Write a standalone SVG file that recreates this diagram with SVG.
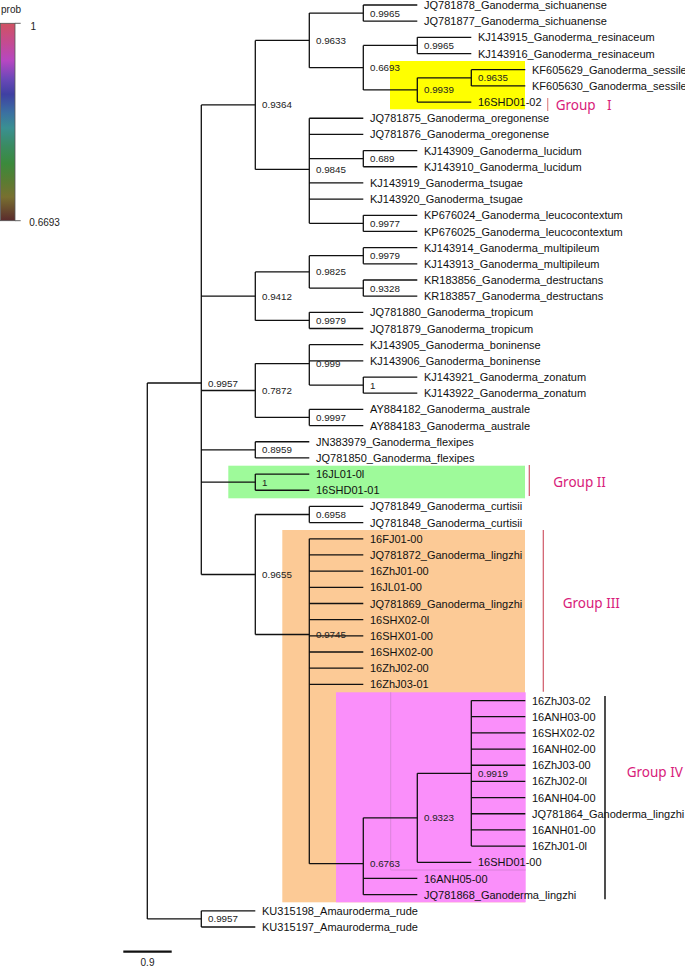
<svg xmlns="http://www.w3.org/2000/svg" width="685" height="968" viewBox="0 0 685 968">
<style>
.leaf{font-family:"Liberation Sans",Arial,sans-serif;font-size:11px;fill:#111}
.nl{font-family:"Liberation Sans",Arial,sans-serif;font-size:9.8px;fill:#222}
.grp{font-family:"Noto Sans","Open Sans",sans-serif;font-size:13.5px;fill:#d81b7a}
.tree{fill:none;stroke:#111;stroke-width:1.3}
.leg{font-family:"Liberation Sans",Arial,sans-serif;font-size:10px;fill:#222}
</style>
<defs>
<linearGradient id="pg" x1="0" y1="0" x2="0" y2="1">
<stop offset="0" stop-color="#d05262"/>
<stop offset="0.1" stop-color="#c44b92"/>
<stop offset="0.19" stop-color="#b647c2"/>
<stop offset="0.28" stop-color="#6c48b8"/>
<stop offset="0.36" stop-color="#3f40a2"/>
<stop offset="0.45" stop-color="#3b6fa2"/>
<stop offset="0.53" stop-color="#3a9092"/>
<stop offset="0.62" stop-color="#3a8b62"/>
<stop offset="0.71" stop-color="#3b8a3c"/>
<stop offset="0.8" stop-color="#5a7c32"/>
<stop offset="0.88" stop-color="#787030"/>
<stop offset="1" stop-color="#5a2a2c"/>
</linearGradient>
</defs>
<rect width="685" height="968" fill="#fff"/>
<g id="legend">
<text class="leg" x="1" y="13">prob</text>
<rect x="0.5" y="23.3" width="14.5" height="197.4" fill="url(#pg)" stroke="#555" stroke-width="0.8"/>
<path d="M15,23.3 H20.7 M15,220.7 H20.7" stroke="#666" stroke-width="1"/>
<text class="leg" x="30.5" y="29.6">1</text>
<text class="leg" x="29.3" y="226.3">0.6693</text>
</g>
<g id="highlights">
<rect id="box-group1" x="390" y="61" width="135" height="48.3" fill="#ffff00"/>
<rect id="box-group2" x="228.3" y="465.7" width="296.7" height="32.6" fill="#9efa9a"/>
<rect id="box-group3" x="282.3" y="530" width="242.7" height="372.3" fill="#fcca96"/>
<rect id="box-group4" x="336" y="692.3" width="189.7" height="210" fill="#fa8ffa"/>
<path d="M390.7,692.3 V870 H525.7" fill="none" stroke="#d37fd3" stroke-width="0.8"/>
</g>
<g id="connectors" class="tree">
<path d="M147.3,383 V918.89 M147.3,383 H201.3 M147.3,918.89 H201.3"/>
<path d="M201.3,104.91 V574.5 M201.3,104.91 H255.3 M201.3,296.15 H255.3 M201.3,390.5 H255.3 M201.3,449.81 H255.3 M201.3,482.16 H255.3 M201.3,574.5 H255.3"/>
<path d="M201.3,910.8 V926.98 M201.3,910.8 H255.3 M201.3,926.98 H255.3"/>
<path d="M255.3,40.38 V169.45 M255.3,40.38 H309.3 M255.3,169.45 H309.3"/>
<path d="M309.3,13.09 V67.68 M309.3,13.09 H363.3 M309.3,67.68 H363.3"/>
<path d="M363.3,5 V21.18 M363.3,5 H417.3 M363.3,21.18 H417.3"/>
<path d="M363.3,45.44 V89.92 M363.3,45.44 H417.3 M363.3,89.92 H417.3"/>
<path d="M417.3,37.35 V53.53 M417.3,37.35 H471.3 M417.3,53.53 H471.3"/>
<path d="M417.3,77.79 V102.05 M417.3,77.79 H471.3 M417.3,102.05 H471.3"/>
<path d="M471.3,69.7 V85.88 M471.3,69.7 H525.3 M471.3,85.88 H525.3"/>
<path d="M309.3,118.23 V223.36 M309.3,118.23 H363.3 M309.3,134.4 H363.3 M309.3,158.66 H363.3 M309.3,182.93 H363.3 M309.3,199.1 H363.3 M309.3,223.36 H363.3"/>
<path d="M363.3,150.58 V166.75 M363.3,150.58 H417.3 M363.3,166.75 H417.3"/>
<path d="M363.3,215.28 V231.45 M363.3,215.28 H417.3 M363.3,231.45 H417.3"/>
<path d="M255.3,271.89 V320.41 M255.3,271.89 H309.3 M255.3,320.41 H309.3"/>
<path d="M309.3,255.71 V288.06 M309.3,255.71 H363.3 M309.3,288.06 H363.3"/>
<path d="M363.3,247.63 V263.8 M363.3,247.63 H417.3 M363.3,263.8 H417.3"/>
<path d="M363.3,279.98 V296.15 M363.3,279.98 H417.3 M363.3,296.15 H417.3"/>
<path d="M309.3,312.33 V328.5 M309.3,312.33 H363.3 M309.3,328.5 H363.3"/>
<path d="M255.3,363.55 V417.46 M255.3,363.55 H309.3 M255.3,417.46 H309.3"/>
<path d="M309.3,344.68 V385.11 M309.3,344.68 H363.3 M309.3,360.85 H363.3 M309.3,385.11 H363.3"/>
<path d="M363.3,377.03 V393.2 M363.3,377.03 H417.3 M363.3,393.2 H417.3"/>
<path d="M309.3,409.38 V425.55 M309.3,409.38 H363.3 M309.3,425.55 H363.3"/>
<path d="M255.3,441.73 V457.9 M255.3,441.73 H309.3 M255.3,457.9 H309.3"/>
<path d="M255.3,474.08 V490.25 M255.3,474.08 H309.3 M255.3,490.25 H309.3"/>
<path d="M255.3,514.51 V634.48 M255.3,514.51 H309.3 M255.3,634.48 H309.3"/>
<path d="M309.3,506.43 V522.6 M309.3,506.43 H363.3 M309.3,522.6 H363.3"/>
<path d="M309.3,538.78 V863.63 M309.3,538.78 H363.3 M309.3,554.95 H363.3 M309.3,571.13 H363.3 M309.3,587.3 H363.3 M309.3,603.48 H363.3 M309.3,619.65 H363.3 M309.3,635.83 H363.3 M309.3,652 H363.3 M309.3,668.18 H363.3 M309.3,684.35 H363.3 M309.3,863.63 H363.3"/>
<path d="M363.3,817.8 V894.63 M363.3,817.8 H417.3 M363.3,878.45 H417.3 M363.3,894.63 H417.3"/>
<path d="M417.3,773.31 V862.28 M417.3,773.31 H471.3 M417.3,862.28 H471.3"/>
<path d="M471.3,700.53 V846.1 M471.3,700.53 H525.3 M471.3,716.7 H525.3 M471.3,732.88 H525.3 M471.3,749.05 H525.3 M471.3,765.23 H525.3 M471.3,781.4 H525.3 M471.3,797.58 H525.3 M471.3,813.75 H525.3 M471.3,829.93 H525.3 M471.3,846.1 H525.3"/>
</g>
<g id="node-labels">
<g id="n-sich"><text class="nl" x="370" y="16.6">0.9965</text></g>
<g id="n-resin"><text class="nl" x="424" y="48.9">0.9965</text></g>
<g id="n-sess"><text class="nl" x="478" y="81.3">0.9635</text></g>
<g id="n-E"><text class="nl" x="424" y="93.4">0.9939</text></g>
<g id="n-D"><text class="nl" x="370" y="71.2">0.6693</text></g>
<g id="n-C"><text class="nl" x="316" y="43.9">0.9633</text></g>
<g id="n-luc"><text class="nl" x="370" y="162.2">0.689</text></g>
<g id="n-KP"><text class="nl" x="370" y="226.9">0.9977</text></g>
<g id="n-F"><text class="nl" x="316" y="173">0.9845</text></g>
<g id="n-B"><text class="nl" x="262" y="108.4">0.9364</text></g>
<g id="n-mult"><text class="nl" x="370" y="259.2">0.9979</text></g>
<g id="n-destr"><text class="nl" x="370" y="291.6">0.9328</text></g>
<g id="n-H"><text class="nl" x="316" y="275.4">0.9825</text></g>
<g id="n-trop"><text class="nl" x="316" y="323.9">0.9979</text></g>
<g id="n-G"><text class="nl" x="262" y="299.7">0.9412</text></g>
<g id="n-zon"><text class="nl" x="370" y="388.6">1</text></g>
<g id="n-J"><text class="nl" x="316" y="367.1">0.999</text></g>
<g id="n-aus"><text class="nl" x="316" y="421">0.9997</text></g>
<g id="n-I"><text class="nl" x="262" y="394">0.7872</text></g>
<g id="n-flex"><text class="nl" x="262" y="453.3">0.8959</text></g>
<g id="n-g2"><text class="nl" x="262" y="485.7">1</text></g>
<g id="n-curt"><text class="nl" x="316" y="518">0.6958</text></g>
<g id="n-P"><text class="nl" x="478" y="776.8">0.9919</text></g>
<g id="n-O"><text class="nl" x="424" y="821.3">0.9323</text></g>
<g id="n-N"><text class="nl" x="370" y="867.1">0.6763</text></g>
<g id="n-M"><text class="nl" x="316" y="638">0.9745</text></g>
<g id="n-K"><text class="nl" x="262" y="578">0.9655</text></g>
<g id="n-A"><text class="nl" x="208" y="386.5">0.9957</text></g>
<g id="n-amau"><text class="nl" x="208" y="922.4">0.9957</text></g>
</g>
<g id="leaves">
<g id="leaf-1"><text class="leaf" x="424" y="9">JQ781878_Ganoderma_sichuanense</text></g>
<g id="leaf-2"><text class="leaf" x="424" y="25.2">JQ781877_Ganoderma_sichuanense</text></g>
<g id="leaf-3"><text class="leaf" x="478" y="41.4">KJ143915_Ganoderma_resinaceum</text></g>
<g id="leaf-4"><text class="leaf" x="478" y="57.5">KJ143916_Ganoderma_resinaceum</text></g>
<g id="leaf-5"><text class="leaf" x="532" y="73.7">KF605629_Ganoderma_sessile</text></g>
<g id="leaf-6"><text class="leaf" x="532" y="89.9">KF605630_Ganoderma_sessile</text></g>
<g id="leaf-7"><text class="leaf" x="478" y="106.1">16SHD01-02</text></g>
<g id="leaf-8"><text class="leaf" x="370" y="122.2">JQ781875_Ganoderma_oregonense</text></g>
<g id="leaf-9"><text class="leaf" x="370" y="138.4">JQ781876_Ganoderma_oregonense</text></g>
<g id="leaf-10"><text class="leaf" x="424" y="154.6">KJ143909_Ganoderma_lucidum</text></g>
<g id="leaf-11"><text class="leaf" x="424" y="170.8">KJ143910_Ganoderma_lucidum</text></g>
<g id="leaf-12"><text class="leaf" x="370" y="186.9">KJ143919_Ganoderma_tsugae</text></g>
<g id="leaf-13"><text class="leaf" x="370" y="203.1">KJ143920_Ganoderma_tsugae</text></g>
<g id="leaf-14"><text class="leaf" x="424" y="219.3">KP676024_Ganoderma_leucocontextum</text></g>
<g id="leaf-15"><text class="leaf" x="424" y="235.5">KP676025_Ganoderma_leucocontextum</text></g>
<g id="leaf-16"><text class="leaf" x="424" y="251.6">KJ143914_Ganoderma_multipileum</text></g>
<g id="leaf-17"><text class="leaf" x="424" y="267.8">KJ143913_Ganoderma_multipileum</text></g>
<g id="leaf-18"><text class="leaf" x="424" y="284">KR183856_Ganoderma_destructans</text></g>
<g id="leaf-19"><text class="leaf" x="424" y="300.2">KR183857_Ganoderma_destructans</text></g>
<g id="leaf-20"><text class="leaf" x="370" y="316.3">JQ781880_Ganoderma_tropicum</text></g>
<g id="leaf-21"><text class="leaf" x="370" y="332.5">JQ781879_Ganoderma_tropicum</text></g>
<g id="leaf-22"><text class="leaf" x="370" y="348.7">KJ143905_Ganoderma_boninense</text></g>
<g id="leaf-23"><text class="leaf" x="370" y="364.9">KJ143906_Ganoderma_boninense</text></g>
<g id="leaf-24"><text class="leaf" x="424" y="381">KJ143921_Ganoderma_zonatum</text></g>
<g id="leaf-25"><text class="leaf" x="424" y="397.2">KJ143922_Ganoderma_zonatum</text></g>
<g id="leaf-26"><text class="leaf" x="370" y="413.4">AY884182_Ganoderma_australe</text></g>
<g id="leaf-27"><text class="leaf" x="370" y="429.6">AY884183_Ganoderma_australe</text></g>
<g id="leaf-28"><text class="leaf" x="316" y="445.7">JN383979_Ganoderma_flexipes</text></g>
<g id="leaf-29"><text class="leaf" x="316" y="461.9">JQ781850_Ganoderma_flexipes</text></g>
<g id="leaf-30"><text class="leaf" x="316" y="478.1">16JL01-0l</text></g>
<g id="leaf-31"><text class="leaf" x="316" y="494.3">16SHD01-01</text></g>
<g id="leaf-32"><text class="leaf" x="370" y="510.4">JQ781849_Ganoderma_curtisii</text></g>
<g id="leaf-33"><text class="leaf" x="370" y="526.6">JQ781848_Ganoderma_curtisii</text></g>
<g id="leaf-34"><text class="leaf" x="370" y="542.8">16FJ01-00</text></g>
<g id="leaf-35"><text class="leaf" x="370" y="559">JQ781872_Ganoderma_lingzhi</text></g>
<g id="leaf-36"><text class="leaf" x="370" y="575.1">16ZhJ01-00</text></g>
<g id="leaf-37"><text class="leaf" x="370" y="591.3">16JL01-00</text></g>
<g id="leaf-38"><text class="leaf" x="370" y="607.5">JQ781869_Ganoderma_lingzhi</text></g>
<g id="leaf-39"><text class="leaf" x="370" y="623.7">16SHX02-0l</text></g>
<g id="leaf-40"><text class="leaf" x="370" y="639.8">16SHX01-00</text></g>
<g id="leaf-41"><text class="leaf" x="370" y="656">16SHX02-00</text></g>
<g id="leaf-42"><text class="leaf" x="370" y="672.2">16ZhJ02-00</text></g>
<g id="leaf-43"><text class="leaf" x="370" y="688.4">16ZhJ03-01</text></g>
<g id="leaf-44"><text class="leaf" x="532" y="704.5">16ZhJ03-02</text></g>
<g id="leaf-45"><text class="leaf" x="532" y="720.7">16ANH03-00</text></g>
<g id="leaf-46"><text class="leaf" x="532" y="736.9">16SHX02-02</text></g>
<g id="leaf-47"><text class="leaf" x="532" y="753.1">16ANH02-00</text></g>
<g id="leaf-48"><text class="leaf" x="532" y="769.2">16ZhJ03-00</text></g>
<g id="leaf-49"><text class="leaf" x="532" y="785.4">16ZhJ02-0l</text></g>
<g id="leaf-50"><text class="leaf" x="532" y="801.6">16ANH04-00</text></g>
<g id="leaf-51"><text class="leaf" x="532" y="817.8">JQ781864_Ganoderma_lingzhi</text></g>
<g id="leaf-52"><text class="leaf" x="532" y="833.9">16ANH01-00</text></g>
<g id="leaf-53"><text class="leaf" x="532" y="850.1">16ZhJ01-0l</text></g>
<g id="leaf-54"><text class="leaf" x="478" y="866.3">16SHD01-00</text></g>
<g id="leaf-55"><text class="leaf" x="424" y="882.5">16ANH05-00</text></g>
<g id="leaf-56"><text class="leaf" x="424" y="898.6">JQ781868_Ganoderma_lingzhi</text></g>
<g id="leaf-57"><text class="leaf" x="262" y="914.8">KU315198_Amauroderma_rude</text></g>
<g id="leaf-58"><text class="leaf" x="262" y="931">KU315197_Amauroderma_rude</text></g>
</g>
<g id="group-labels">
<g id="group1"><path d="M547.7,98 V111" stroke="#e08a8a" stroke-width="1.2"/><text class="grp" x="555.7" y="110">Group <tspan x="607">I</tspan></text></g>
<g id="group2"><path d="M529.3,465 V496" stroke="#d05868" stroke-width="1.2"/><text class="grp" x="553.3" y="486.5">Group II</text></g>
<g id="group3"><path d="M543.3,530 V691.7" stroke="#d05868" stroke-width="1.2"/><text class="grp" x="562.7" y="607.5">Group III</text></g>
<g id="group4"><path d="M605,696 V899.3" stroke="#222" stroke-width="1.6"/><text class="grp" x="626.7" y="776.5">Group IV</text></g>
</g>
<g id="scale-bar">
<path d="M123.3,951.7 H171.7" stroke="#111" stroke-width="2.2"/>
<text class="leg" x="147.5" y="966" text-anchor="middle">0.9</text>
</g>
</svg>
